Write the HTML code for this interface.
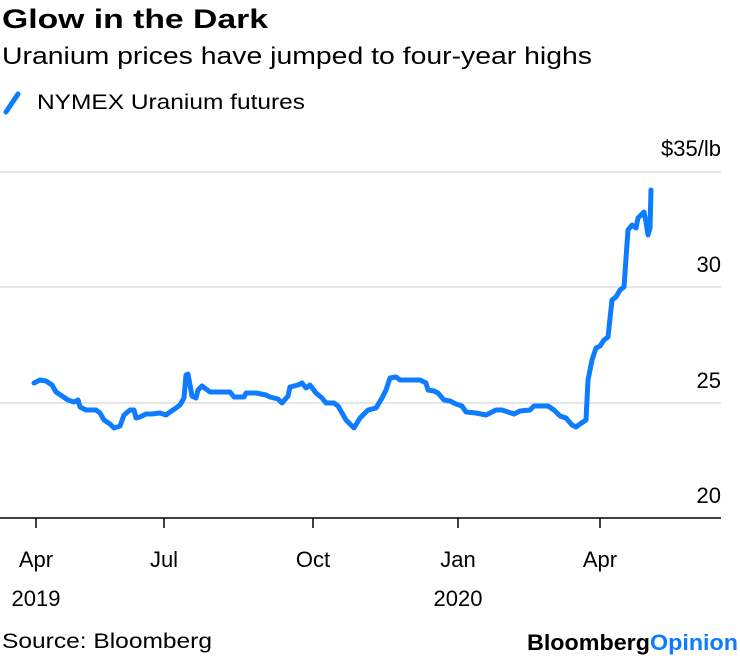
<!DOCTYPE html>
<html><head><meta charset="utf-8"><style>
body{margin:0;background:#fff;width:740px;height:659px;overflow:hidden;font-family:"Liberation Sans",sans-serif;color:#000}
</style></head><body>
<svg width="740" height="659" xmlns="http://www.w3.org/2000/svg" font-family="Liberation Sans, sans-serif">
<text x="2" y="28" font-size="27" font-weight="bold" textLength="266" lengthAdjust="spacingAndGlyphs">Glow in the Dark</text>
<text x="2" y="64" font-size="24" textLength="590" lengthAdjust="spacingAndGlyphs">Uranium prices have jumped to four-year highs</text>
<line x1="6" y1="112" x2="18" y2="94" stroke="#0e7cff" stroke-width="5" stroke-linecap="round"/>
<text x="37" y="109" font-size="21" textLength="268" lengthAdjust="spacingAndGlyphs">NYMEX Uranium futures</text>
<g stroke="#e6e6e6" stroke-width="2">
<line x1="0" y1="172" x2="721" y2="172"/><line x1="0" y1="287" x2="721" y2="287"/><line x1="0" y1="403" x2="721" y2="403"/>
</g>
<line x1="0" y1="518" x2="721" y2="518" stroke="#000" stroke-width="1.5"/>
<g stroke="#000" stroke-width="1.5">
<line x1="36" y1="518" x2="36" y2="528"/><line x1="164" y1="518" x2="164" y2="528"/><line x1="313" y1="518" x2="313" y2="528"/><line x1="458" y1="518" x2="458" y2="528"/><line x1="600" y1="518" x2="600" y2="528"/>
</g>
<g font-size="22" text-anchor="end">
<text x="721" y="156">$35/lb</text><text x="721" y="272">30</text><text x="721" y="388">25</text><text x="721" y="503">20</text>
</g>
<g font-size="22" text-anchor="middle">
<text x="36" y="567">Apr</text><text x="164" y="567">Jul</text><text x="313" y="567">Oct</text><text x="458" y="567">Jan</text><text x="600" y="567">Apr</text>
<text x="36" y="606">2019</text><text x="458" y="606">2020</text>
</g>
<polyline fill="none" stroke="#0e7cff" stroke-width="5" stroke-linejoin="round" stroke-linecap="round" points="34,383 40,380 46,381 52,385 56,392 62,396 68,400 74,402 78,400 80,407 86,410 90,410 96,410 100,413 104,420 110,424 114,428 120,426 124,415 130,410 134,410 136,418 140,417 146,414 152,414 160,413 166,415 170,412 176,408 180,405 184,398 186,375 188,374 192,396 196,398 198,390 202,386 210,392 230,392 234,397 244,397 246,393 256,393 266,395 270,397 278,399 282,403 288,396 290,387 298,385 302,383 306,388 310,385 316,393 322,398 326,403 334,403 338,406 346,420 354,428 360,418 368,410 376,408 382,398 386,390 390,378 396,377 400,380 420,380 426,383 428,390 434,391 438,393 444,400 450,401 456,404 462,406 466,412 476,413 486,415 490,413 496,410 502,410 508,412 514,414 520,411 530,410 534,406 548,406 554,410 560,416 566,418 572,425 576,427 580,424 586,420 588,380 592,360 596,348 600,346 604,340 608,337 612,300 616,297 620,290 624,287 628,230 632,225 636,228 638,218 644,212 646,222 648,235 650,228 651,190"/>
<text x="2" y="648" font-size="21" textLength="210" lengthAdjust="spacingAndGlyphs">Source: Bloomberg</text>
<text x="527" y="650" font-size="22" font-weight="bold" textLength="211" lengthAdjust="spacingAndGlyphs">Bloomberg<tspan fill="#0e7cff">Opinion</tspan></text>
</svg>
</body></html>
